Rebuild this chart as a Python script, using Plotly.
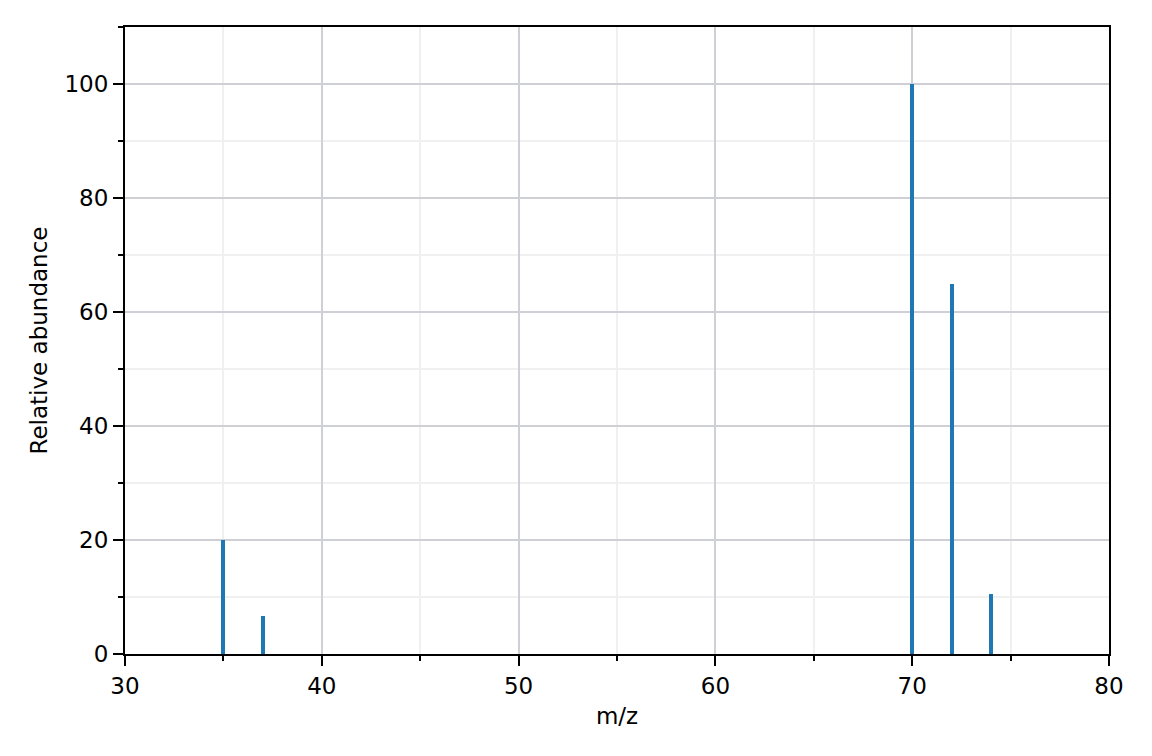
import plotly.graph_objects as go

mz = [35, 37, 70, 72, 74]
abundance = [20.0, 6.6, 100.0, 65.0, 10.5]
x_ticks = [30, 40, 50, 60, 70, 80]
y_ticks = [0, 20, 40, 60, 80, 100]

fig = go.Figure()
fig.add_trace(go.Bar(
    x=mz, y=abundance, width=0.2,
    marker=dict(color="#1f77b4", line=dict(width=0)),
    showlegend=False,
))

font = dict(family="DejaVu Sans", size=23, color="black")
fig.update_layout(
    width=1152, height=756,
    margin=dict(l=117, r=51, t=19, b=110),
    paper_bgcolor="white", plot_bgcolor="white",
    font=font,
    bargap=0,
)
fig.update_xaxes(
    range=[30, 80], tickvals=x_ticks, ticktext=[str(v) for v in x_ticks],
    showline=True, linecolor="black", linewidth=2, mirror=True,
    ticks="outside", ticklen=10, tickwidth=2, tickcolor="black",
    showgrid=True, gridcolor="#cfd0d6", gridwidth=1.5, zeroline=False,
    minor=dict(dtick=5, tick0=30, ticks="outside", ticklen=5, tickwidth=1.5,
               tickcolor="black", showgrid=True, gridcolor="#f0f0f0", gridwidth=1.5),
    title=dict(text="m/z", standoff=10, font=font),
    tickfont=font,
)
fig.update_yaxes(
    range=[0, 110], tickvals=y_ticks, ticktext=[str(v) for v in y_ticks],
    showline=True, linecolor="black", linewidth=2, mirror=True,
    ticks="outside", ticklen=10, tickwidth=2, tickcolor="black",
    showgrid=True, gridcolor="#cfd0d6", gridwidth=1.5, zeroline=False,
    minor=dict(dtick=10, tick0=0, ticks="outside", ticklen=5, tickwidth=1.5,
               tickcolor="black", showgrid=True, gridcolor="#f0f0f0", gridwidth=1.5),
    title=dict(text="Relative abundance", standoff=10, font=font),
    tickfont=font,
)
fig.write_html("out.html")
